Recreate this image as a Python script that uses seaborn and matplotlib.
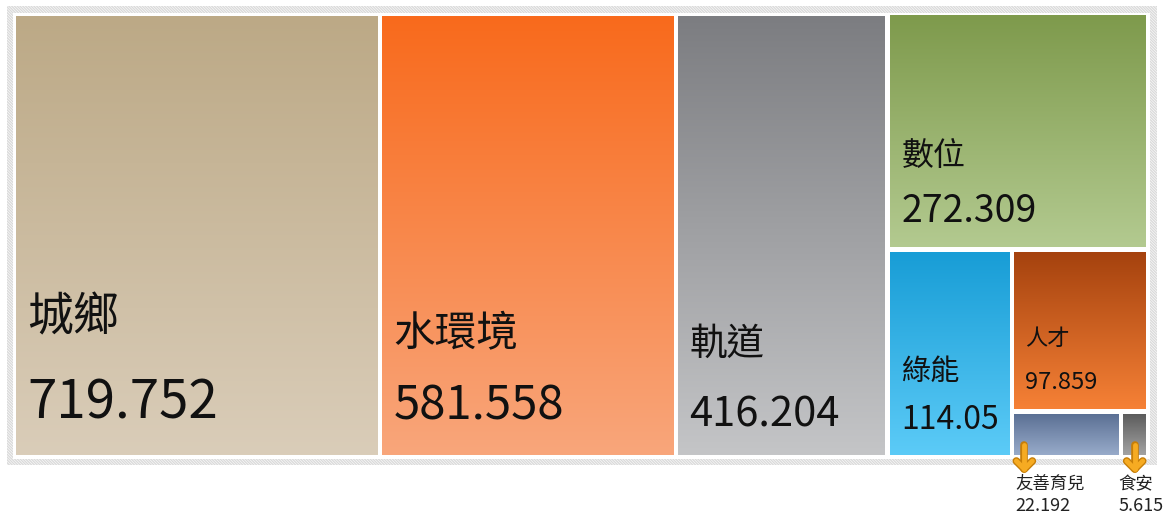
import numpy as np
import matplotlib
matplotlib.use("Agg")
import matplotlib.pyplot as plt
from matplotlib.patches import Rectangle
import matplotlib.colors as mcolors
import seaborn as sns

# ---- data ----
categories = ["城鄉", "水環境", "軌道", "數位", "綠能", "人才", "友善育兒", "食安"]
values = [719.752, 581.558, 416.204, 272.309, 114.05, 97.859, 22.192, 5.615]
value_labels = ["719.752", "581.558", "416.204", "272.309", "114.05", "97.859", "22.192", "5.615"]

# ---- style ----
top_colors = ["#bca986", "#f96a1c", "#7c7d81", "#7e9a4c", "#189dd6", "#a5420e", "#5b7094", "#5c5c5c"]
bot_colors = ["#dacdb9", "#f8a67b", "#c4c5c7", "#b3ca90", "#5ccbf7", "#f68136", "#98abca", "#a3a3a3"]
label_sizes = [33, 30, 27, 23, 21, 16]
number_sizes = [38, 34, 30, 27, 23, 17]
label_off = [138, 121, 111, 91, 83, 71]   # px above rect bottom
number_off = [52, 49, 40, 36, 35, 27]

# split structure (h = side by side, v = stacked)
tree = ("h", [0, 1, 2, ("v", [3, ("h", [4, ("v", [5, ("h", [6, 7])])])])])

sns.set_theme(style="white")
plt.rcParams["font.family"] = ["Noto Sans CJK TC", "DejaVu Sans"]
plt.rcParams["hatch.linewidth"] = 1.0

def node_total(n):
    if isinstance(n, int):
        return values[n]
    return sum(node_total(c) for c in n[1])

rects = {}
def layout(n, x0, y0, x1, y1):
    if isinstance(n, int):
        rects[n] = (x0, y0, x1, y1)
        return
    orient, kids = n
    tot = node_total(n)
    pos = x0 if orient == "h" else y0
    for k in kids:
        frac = node_total(k) / tot
        if orient == "h":
            w = (x1 - x0) * frac
            layout(k, pos, y0, pos + w, y1)
            pos += w
        else:
            h = (y1 - y0) * frac
            layout(k, x0, pos, x1, pos + h)
            pos += h

OX0, OY0, OX1, OY1 = 13.5, 13.5, 1148.5, 457.5
layout(tree, OX0, OY0, OX1, OY1)

fig = plt.figure(figsize=(11.69, 5.18), dpi=100)
ax = fig.add_axes([0, 0, 1, 1])
ax.set_xlim(0, 1169)
ax.set_ylim(518, 0)
ax.axis("off")

# hatched frame
ax.add_patch(Rectangle((7, 6), 1150, 459, facecolor="white", edgecolor="#dadada",
                       hatch="\\" * 12, lw=0, zorder=0))
ax.add_patch(Rectangle((12.5, 12.5), 1137, 446.5, facecolor="white", lw=0, zorder=1))

gap = 2.5
for i in range(len(values)):
    x0, y0, x1, y1 = rects[i]
    x0 += gap; y0 += gap; x1 -= gap; y1 -= gap
    c0 = np.array(mcolors.to_rgb(top_colors[i]))
    c1 = np.array(mcolors.to_rgb(bot_colors[i]))
    t = np.linspace(0, 1, 256)[:, None]
    grad = (c0[None, :] * (1 - t) + c1[None, :] * t)[:, None, :]
    ax.imshow(grad, extent=(x0, x1, y1, y0), origin="upper", aspect="auto",
              interpolation="bilinear", zorder=2)
    if i < 6:
        ax.text(x0 + 11, y1 - label_off[i], categories[i], fontsize=label_sizes[i],
                color="#111111", va="center", ha="left", zorder=3)
        ax.text(x0 + 11, y1 - number_off[i], value_labels[i], fontsize=number_sizes[i],
                color="#111111", va="center", ha="left", zorder=3)
    else:
        axx = x0 + 10 if i == 6 else (x0 + x1) / 2
        for lwid, col in ((5.5, "#c77e08"), (3.5, "#f6ab22")):
            ax.plot([axx, axx], [y1 - 10, y1 + 14], color=col, lw=lwid,
                    solid_capstyle="round", zorder=4)
            ax.plot([axx - 8, axx, axx + 8], [y1 + 6, y1 + 14, y1 + 6], color=col, lw=lwid,
                    solid_capstyle="round", solid_joinstyle="round", zorder=4)
        tx = x0 + 1 if i == 6 else x0 - 5
        ax.text(tx, 484, categories[i], fontsize=12.5, color="#222222",
                va="center", ha="left", zorder=3)
        ax.text(tx, 506, value_labels[i], fontsize=13, color="#222222",
                va="center", ha="left", zorder=3)

fig.savefig("out.png", dpi=100)
